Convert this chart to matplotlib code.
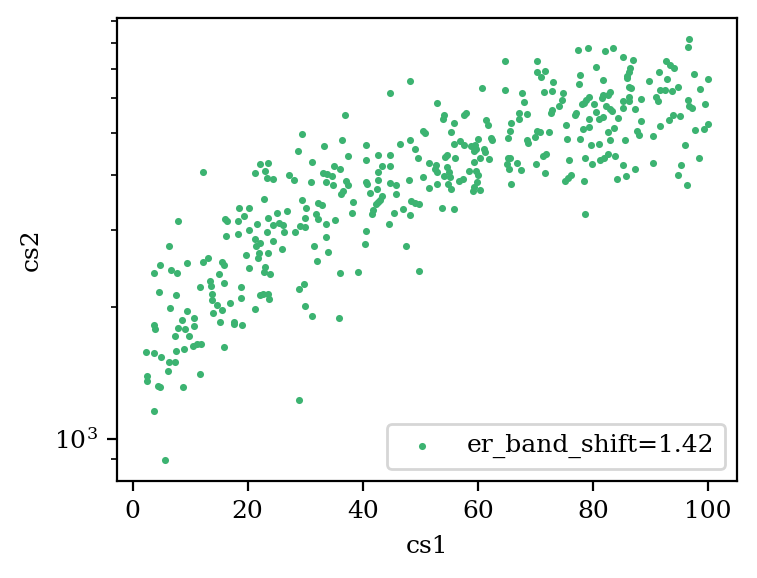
import matplotlib
matplotlib.use("Agg")
import matplotlib.pyplot as plt
import numpy as np

plt.rcParams['font.family'] = ['DejaVu Serif']
plt.rcParams['mathtext.fontset'] = 'dejavuserif'
plt.rcParams['font.size'] = 9

label = "er_band_shift=1.42"

cs1 = [
    12.3, 21.2, 7.9, 18.5, 20.3, 16.0, 16.4, 18.3, 19.4, 20.3,
    16.3, 18.3, 21.3, 6.4, 19.7, 21.4, 4.8, 3.8, 6.7, 7.7,
    9.5, 12.3, 13.1, 15.6, 15.9, 20.3, 15.0, 4.6, 7.6, 11.7,
    13.5, 13.7, 15.9, 18.9, 13.8, 13.8, 14.7, 17.0, 18.9, 6.5,
    9.5, 15.6, 21.2, 14.0, 3.8, 3.9, 8.6, 10.7, 7.9, 9.1,
    10.7, 15.2, 17.7, 17.7, 19.0, 7.4, 9.8, 2.4, 3.8, 5.0,
    7.6, 9.0, 10.5, 11.2, 11.9, 15.9, 6.4, 7.4, 6.2, 2.5,
    2.5, 4.4, 4.8, 8.8, 11.7, 3.8, 5.7,
    44.8, 36.9, 29.5, 36.4, 33.3, 28.8, 40.6, 46.4, 40.6, 42.7,
    44.8, 37.5, 31.2, 22.2, 23.6, 23.0, 23.4, 24.4, 27.2, 28.1,
    35.0, 36.1, 43.4, 44.8, 33.1, 33.8, 34.7, 33.6, 34.9, 31.0,
    42.7, 42.7, 40.6, 40.8, 37.1, 37.5, 44.8, 45.7, 45.7, 42.5,
    41.3, 43.4, 36.6, 36.2, 42.7, 43.0, 42.3, 22.9, 29.5, 38.3,
    32.2, 32.9, 30.2, 41.8, 41.6, 38.2, 45.5, 25.1, 26.8, 23.6,
    31.9, 30.0, 32.2, 35.2, 21.6, 24.4, 25.5, 26.2, 33.6, 29.1,
    30.0, 44.6, 23.4, 26.3, 28.2, 40.6, 33.6,
    22.2, 24.4, 31.5, 40.4, 26.0, 34.0, 22.0, 23.6, 21.8, 32.1,
    23.0, 22.9, 23.9, 36.1, 39.2, 29.8, 28.9, 22.2, 22.7, 23.6,
    23.7, 30.0, 31.2, 35.9, 28.9,
    64.7, 70.3, 70.3, 71.7, 71.0, 73.1, 48.2, 60.7, 64.7, 67.7,
    71.5, 72.9, 68.0, 52.9, 67.2, 68.6, 67.2, 72.9, 57.6, 58.0,
    54.1, 54.0, 55.9, 61.4, 61.8, 65.8, 65.6, 55.4, 50.5, 50.8,
    70.3, 70.8, 72.4, 69.9, 65.3, 62.3, 62.5, 48.2, 49.1, 55.9,
    56.9, 57.6, 58.8, 59.5, 60.0, 59.3, 59.7, 61.1, 61.3, 68.6,
    68.7, 49.6, 54.3, 54.7, 56.0, 60.4, 62.0, 65.3, 65.6, 65.1,
    66.8, 71.3, 71.9, 70.1, 51.5, 52.7, 52.6, 52.9, 54.7, 59.3,
    65.4, 67.5, 71.7, 58.5, 59.7, 60.0, 55.0, 55.2, 54.1, 50.5,
    48.1, 52.9, 54.8, 55.4, 56.7, 57.4, 59.9, 59.3, 59.2, 60.4,
    65.8, 51.5, 48.4, 49.1, 49.8, 47.0, 48.2, 53.8, 55.9, 78.6,
    47.5, 49.8,
    96.7, 96.5, 77.4, 79.2, 82.1, 83.5, 85.2, 87.0, 92.7, 93.4,
    94.1, 80.5, 86.4, 86.3, 85.9, 85.9, 77.8, 77.6, 81.8, 91.5,
    89.7, 92.9, 97.6, 100.0, 86.3, 86.6, 94.8, 98.6, 91.7, 92.5,
    93.7, 74.8, 74.6, 83.0, 82.6, 81.8, 81.6, 79.3, 78.8, 78.5,
    78.1, 80.2, 86.3, 86.3, 85.2, 88.4, 91.0, 91.3, 96.5, 99.5,
    74.1, 82.3, 83.0, 83.3, 85.2, 87.3, 96.7, 97.2, 77.1, 76.9,
    80.5, 81.8, 81.1, 84.4, 93.9, 93.2, 95.1, 79.3, 88.4, 75.3,
    79.3, 78.3, 83.7, 82.6, 87.7, 88.0, 91.7, 97.7, 100.0, 99.3,
    75.5, 77.8, 83.0, 85.6, 90.4, 79.7, 81.1, 96.0, 75.8, 78.6,
    79.8, 81.2, 81.9, 82.6, 83.8, 85.2, 87.3, 90.4, 95.3, 98.4,
    94.8, 96.4, 76.2, 75.7, 75.2, 78.5, 84.2, 85.7, 72.7,
]

cs2 = [
    4058, 4037, 3135, 3356, 3356, 3173, 3135, 3135, 3218, 3001,
    2911, 2927, 2855, 2748, 2634, 2748, 2498, 2395, 2433, 2395,
    2525, 2538, 2593, 2538, 2498, 2459, 2382, 2167, 2133, 2225,
    2296, 2237, 2272, 2225, 2144, 2077, 2023, 2045, 2100, 1984,
    1958, 1965, 1981, 1939, 1815, 1783, 1870, 1882, 1793, 1783,
    1812, 1850, 1850, 1831, 1821, 1718, 1718, 1580, 1571, 1539,
    1588, 1604, 1630, 1647, 1647, 1621, 1498, 1498, 1429, 1392,
    1356, 1321, 1314, 1314, 1406, 1157, 894,
    6156, 5481, 4959, 4804, 4654, 4534, 4679, 4704, 4323, 4439,
    4439, 4427, 4278, 4233, 4255, 4080, 3932, 3911, 3994, 3891,
    4188, 4123, 4188, 4188, 4037, 4016, 3973, 3850, 3789, 3850,
    4058, 3891, 3850, 3810, 3870, 3789, 3830, 3789, 3614, 3710,
    3633, 3576, 3672, 3614, 3465, 3501, 3428, 3520, 3501, 3465,
    3446, 3410, 3357, 3321, 3252, 3269, 3269, 3269, 3304, 3184,
    3252, 3184, 3168, 3151, 3086, 3069, 3102, 3069, 3086, 3053,
    3037, 3086, 2973, 2973, 2973, 2989, 2893,
    2806, 2821, 2762, 2777, 2719, 2676, 2662, 2662, 2593, 2551,
    2472, 2408, 2382, 2395, 2408, 2260, 2196, 2133, 2145, 2145,
    2089, 2012, 1909, 1889, 1226,
    7287, 7287, 6876, 6912, 6697, 6523, 6558, 6320, 6254, 6156,
    6188, 6221, 5870, 5839, 5540, 5510, 5366, 5628, 5490, 5548,
    5481, 5366, 5255, 5338, 5199, 5255, 5038, 5011, 5038, 4985,
    5038, 5011, 5011, 4881, 4855, 4855, 4804, 4804, 4582, 4704,
    4779, 4679, 4655, 4679, 4829, 4534, 4581, 4581, 4509, 4804,
    4729, 4369, 4392, 4439, 4369, 4369, 4346, 4369, 4369, 4233,
    4255, 4415, 4462, 4233, 4255, 4210, 4123, 4058, 4166, 4278,
    4123, 4101, 4037, 4080, 4080, 3994, 4058, 3953, 3973, 3953,
    3891, 3810, 3810, 3710, 3870, 3911, 3850, 3750, 3672, 3691,
    3810, 3730, 3483, 3446, 3428, 3339, 3235, 3357, 3339, 3252,
    2762, 2420,
    8183, 7845, 7721, 7803, 7681, 7803, 7441, 7325, 7287, 7135,
    7018, 7060, 7018, 6876, 6732, 6662, 6767, 6455, 6592, 6876,
    6558, 6627, 6803, 6627, 6353, 6320, 6353, 6287, 6254, 6254,
    6221, 6156, 5932, 6188, 6091, 6091, 5995, 6027, 5932, 5839,
    5808, 5808, 6027, 5901, 5901, 5963, 6027, 5901, 5932, 5808,
    5747, 5747, 5657, 5598, 5687, 5657, 5747, 5687, 5540, 5481,
    5569, 5424, 5366, 5395, 5481, 5338, 5453, 5366, 5311, 5199,
    5145, 5091, 5118, 5011, 5038, 4933, 5172, 5064, 5227, 5091,
    4829, 4829, 4804, 4804, 4907, 4679, 4704, 4679, 4323, 4369,
    4233, 4323, 4369, 4462, 4415, 4210, 4123, 4255, 4210, 4369,
    3994, 3789, 3994, 3932, 3882, 3870, 3911, 3973, 5548,
]

fig = plt.figure(figsize=(7.57 / 2, 5.78 / 2), dpi=200)
ax = fig.add_axes([117 / 757, 1 - 481 / 578, 620 / 757, 463 / 578])

ax.scatter(cs1, cs2, s=6.5, color="mediumseagreen", linewidths=0, label=label)
ax.set_yscale("log")
ax.set_xlim(-2.7, 105.0)
ax.set_xlabel("cs1")
ax.set_ylabel("cs2")
ax.set_xticks([0, 20, 40, 60, 80, 100])
ax.legend(loc="lower right")

fig.savefig("out.png", dpi=200)
